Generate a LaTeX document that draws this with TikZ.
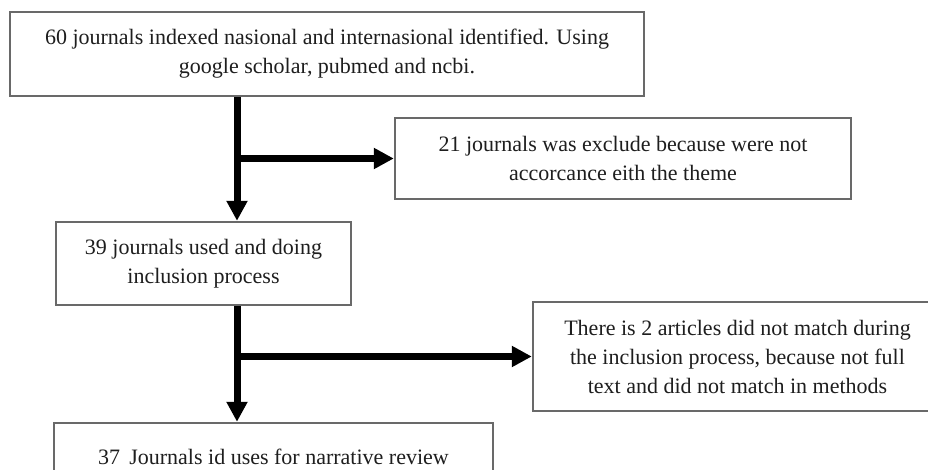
\documentclass[tikz,border=0pt]{standalone}
\usepackage{fontspec}
\setmainfont{Liberation Serif}
\usetikzlibrary{arrows.meta,positioning}
\definecolor{flowgray}{RGB}{105,105,105}
\definecolor{flowtext}{RGB}{30,30,30}

\begin{document}
\begin{tikzpicture}[x=0.5pt,y=-0.5pt,
  stagebox/.style={draw=flowgray, line width=1.2pt, fill=white, align=center,
    font=\fontsize{11}{14.5}\selectfont, text=flowtext, inner sep=0pt},
  flowarrow/.style={-{Triangle[length=10pt,width=10pt]}, line width=3.5pt, black}]
  \clip (0,0) rectangle (928,470);
  % Main column
  \node[stagebox, minimum width=317pt, minimum height=42pt] (ident) at (327,54)
    {60 journals indexed nasional and internasional identified. Using\\google scholar, pubmed and ncbi.};
  \node[stagebox, minimum width=147.5pt, minimum height=41.5pt] (used) at (203.5,263.5)
    {39 journals used and doing\\inclusion process};
  \node[stagebox, minimum width=219.5pt, minimum height=33.5pt] (review) at (273.5,456.5)
    {37 \,Journals id uses for narrative review};
  % Right: excluded journals
  \node[stagebox, minimum width=228pt, minimum height=40.5pt] (exclude) at (623,158.5)
    {21 journals was exclude because were not\\accorcance eith the theme};
  \node[stagebox, minimum width=204.5pt, minimum height=54.5pt] (nomatch) at (737.5,356.5)
    {There is 2 articles did not match during\\the inclusion process, because not full\\text and did not match in methods};
  % Arrows
  \coordinate (trunk) at (237,0);
  \draw[flowarrow] (ident.south -| trunk) -- (used.north -| trunk);
  \draw[flowarrow] (trunk |- exclude.west) -- (exclude.west);
  \draw[flowarrow] (used.south -| trunk) -- (review.north -| trunk);
  \draw[flowarrow] (trunk |- nomatch.west) -- (nomatch.west);
\end{tikzpicture}
\end{document}
